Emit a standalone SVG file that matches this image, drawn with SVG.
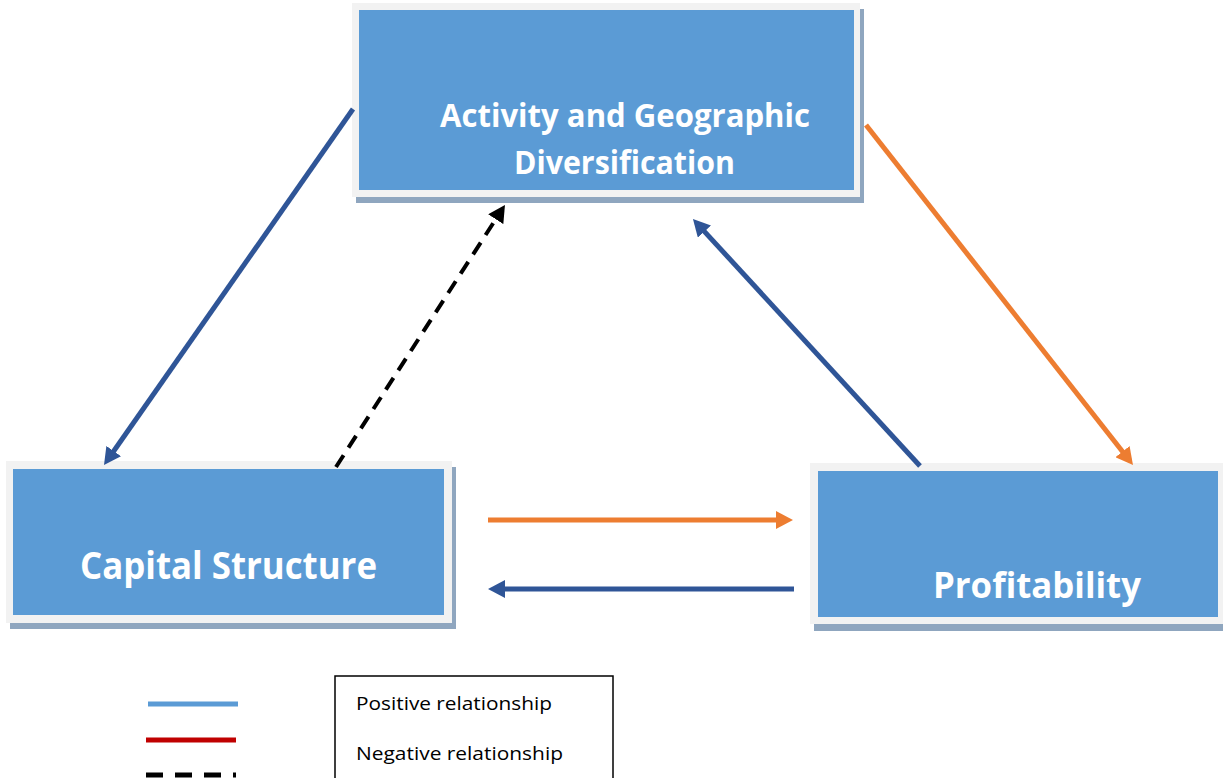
<svg xmlns="http://www.w3.org/2000/svg" width="1223" height="778" viewBox="0 0 1223 778">
<style>
.shadow{fill:#8fa6bf}
.frame{fill:#f2f2f2}
.box{fill:#5b9bd5}
.lbl{font-family:"Open Sans","Liberation Sans",sans-serif;font-weight:700;fill:#ffffff;text-anchor:start}
.leg{font-family:"Open Sans","Liberation Sans",sans-serif;font-size:19px;fill:#000000}
.c{fill:none;stroke-width:5}
.blue{stroke:#2f5597}
.orange{stroke:#ed7d31}
.dash{stroke:#000000;stroke-width:4;stroke-dasharray:14 9}
</style>
<defs>
<marker id="aBlue" markerUnits="userSpaceOnUse" markerWidth="18" markerHeight="18" refX="6" refY="9" orient="auto"><path d="M0,0 L17,9 L0,18 z" fill="#2f5597"/></marker>
<marker id="aOrange" markerUnits="userSpaceOnUse" markerWidth="18" markerHeight="18" refX="6" refY="9" orient="auto"><path d="M0,0 L17,9 L0,18 z" fill="#ed7d31"/></marker>
<marker id="aBlack" markerUnits="userSpaceOnUse" markerWidth="18" markerHeight="18" refX="6" refY="9" orient="auto"><path d="M0,0 L17,9 L0,18 z" fill="#000000"/></marker>
</defs>
<rect width="1223" height="778" fill="#ffffff"/>
<g id="node-activity">
<rect class="shadow" x="356" y="9" width="508" height="194"/>
<rect class="frame" x="352" y="3" width="508" height="194"/>
<rect class="box" x="359" y="10" width="495" height="180"/>
<text class="lbl" x="440" y="127" font-size="32" textLength="370" lengthAdjust="spacingAndGlyphs">Activity and Geographic</text>
<text class="lbl" x="514" y="174" font-size="32" textLength="221" lengthAdjust="spacingAndGlyphs">Diversification</text>
</g>
<g id="node-capital">
<rect class="shadow" x="10" y="467" width="446" height="162"/>
<rect class="frame" x="6" y="461" width="446" height="162"/>
<rect class="box" x="13" y="469" width="431" height="146"/>
<text class="lbl" x="80" y="579" font-size="37" textLength="297" lengthAdjust="spacingAndGlyphs">Capital Structure</text>
</g>
<g id="node-profitability">
<rect class="shadow" x="814" y="469" width="420" height="162"/>
<rect class="frame" x="810" y="463" width="420" height="161"/>
<rect class="box" x="818" y="471" width="400" height="146"/>
<text class="lbl" x="933" y="598" font-size="35" textLength="208" lengthAdjust="spacingAndGlyphs">Profitability</text>
</g>
<g id="connectors">
<line class="c blue" x1="353" y1="109" x2="110.3" y2="456" marker-end="url(#aBlue)"/>
<line class="c dash" x1="336" y1="467" x2="499" y2="214.2" marker-end="url(#aBlack)"/>
<line class="c orange" x1="866" y1="125" x2="1126.2" y2="456.3" marker-end="url(#aOrange)"/>
<line class="c blue" x1="920" y1="466" x2="700.4" y2="227.1" marker-end="url(#aBlue)"/>
<line class="c orange" x1="488" y1="520" x2="782" y2="520" marker-end="url(#aOrange)"/>
<line class="c blue" x1="794" y1="589" x2="499" y2="589" marker-end="url(#aBlue)"/>
</g>
<g id="legend">
<line x1="148" y1="704" x2="238" y2="704" stroke="#5b9bd5" stroke-width="5"/>
<line x1="146" y1="740" x2="236" y2="740" stroke="#c00000" stroke-width="5"/>
<line x1="146" y1="775" x2="236" y2="775" stroke="#000000" stroke-width="5" stroke-dasharray="17 12"/>
<rect x="335" y="676" width="278" height="110" fill="none" stroke="#000000" stroke-width="1.5"/>
<text class="leg" x="356" y="710" textLength="196" lengthAdjust="spacingAndGlyphs">Positive relationship</text>
<text class="leg" x="356" y="760" textLength="207" lengthAdjust="spacingAndGlyphs">Negative relationship</text>
</g>
</svg>
